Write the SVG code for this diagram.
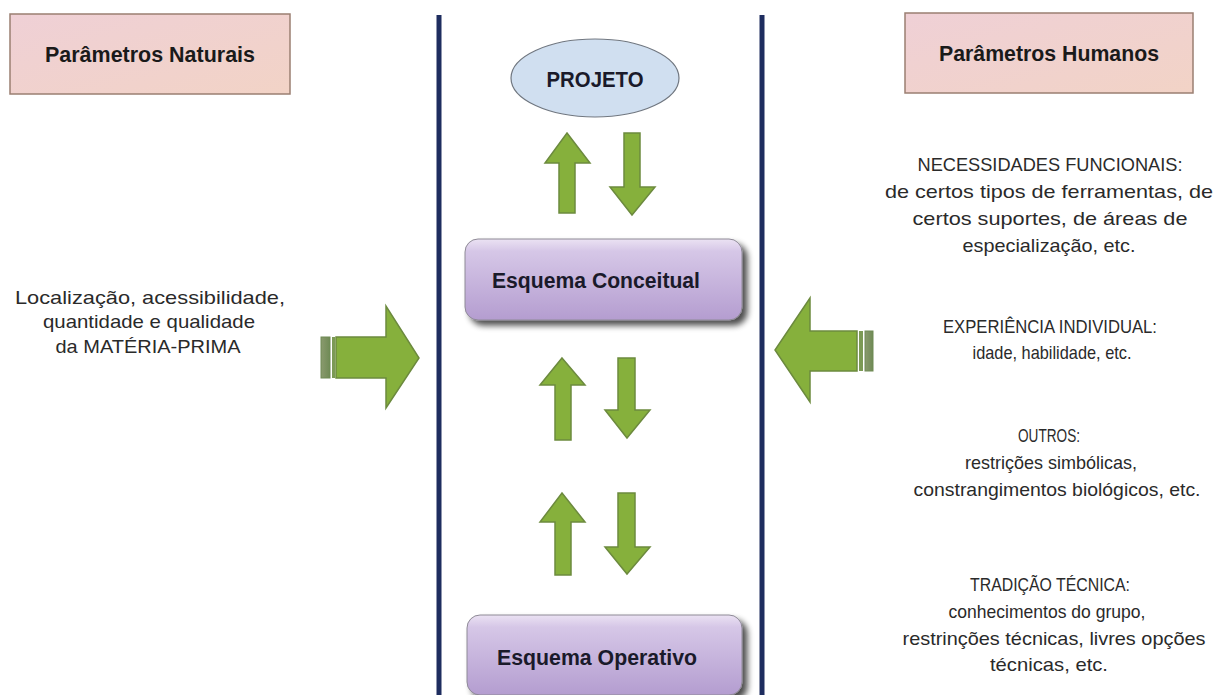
<svg xmlns="http://www.w3.org/2000/svg" width="1220" height="695" viewBox="0 0 1220 695">
<defs>
<linearGradient id="pink" x1="0" y1="0" x2="1" y2="1">
<stop offset="0" stop-color="#efd0d6"/><stop offset="1" stop-color="#f2d3c6"/>
</linearGradient>
<linearGradient id="purple" x1="0" y1="0" x2="0" y2="1">
<stop offset="0" stop-color="#ebe2f3"/><stop offset="0.15" stop-color="#d6c7e7"/><stop offset="1" stop-color="#b49dd0"/>
</linearGradient>
<linearGradient id="stripe" x1="0" y1="0" x2="1" y2="0">
<stop offset="0" stop-color="#8a9a6e"/><stop offset="1" stop-color="#6f8a55"/>
</linearGradient>
<filter id="sh" x="-10%" y="-20%" width="125%" height="160%">
<feGaussianBlur in="SourceAlpha" stdDeviation="3"/>
<feOffset dx="5" dy="5" result="b"/>
<feComponentTransfer><feFuncA type="linear" slope="0.7"/></feComponentTransfer>
<feMerge><feMergeNode/><feMergeNode in="SourceGraphic"/></feMerge>
</filter>
</defs>
<style>
.hdr{font-family:"Liberation Sans",Arial,sans-serif;font-weight:bold;font-size:22px;fill:#1a1a1a;text-anchor:middle}
.box{font-family:"Liberation Sans",Arial,sans-serif;font-weight:bold;font-size:22px;fill:#1a1a2a;text-anchor:middle}
.t{font-family:"Liberation Sans",Arial,sans-serif;font-size:19px;fill:#2a2a2a;text-anchor:middle}
.pinkbox{fill:url(#pink);stroke:#9a7f72;stroke-width:1.5}
.purp{fill:url(#purple);stroke:#8e8a96;stroke-width:1}
.ga{fill:#86b03c;stroke:#6c8a3e;stroke-width:1.5;stroke-linejoin:miter}
.vline{stroke:#1e2d5f;stroke-width:5}
</style>
<rect width="1220" height="695" fill="#ffffff"/>

<g id="node-parametros-naturais">
<rect class="pinkbox" x="10" y="14" width="280" height="80"/>
<text class="hdr" x="150" y="62" textLength="210" lengthAdjust="spacingAndGlyphs">Parâmetros Naturais</text>
</g>
<g id="node-parametros-humanos">
<rect class="pinkbox" x="905" y="13" width="288" height="80"/>
<text class="hdr" x="1049" y="61" textLength="220" lengthAdjust="spacingAndGlyphs">Parâmetros Humanos</text>
</g>

<g id="dividers">
<line class="vline" x1="439" y1="15" x2="439" y2="695"/>
<line class="vline" x1="762" y1="15" x2="762" y2="695"/>
</g>

<g id="node-projeto">
<ellipse cx="595" cy="78" rx="84" ry="39" fill="#d0dff0" stroke="#707780" stroke-width="1.2"/>
<text class="box" x="595" y="87" textLength="97" lengthAdjust="spacingAndGlyphs">PROJETO</text>
</g>

<g id="node-esquema-conceitual">
<rect class="purp" x="465" y="239" width="277" height="81" rx="13" filter="url(#sh)"/>
<text class="box" x="596" y="288" textLength="208" lengthAdjust="spacingAndGlyphs">Esquema Conceitual</text>
</g>

<g id="node-esquema-operativo">
<rect class="purp" x="467" y="615" width="275" height="80" rx="13" filter="url(#sh)"/>
<text class="box" x="597" y="665" textLength="200" lengthAdjust="spacingAndGlyphs">Esquema Operativo</text>
</g>

<g id="node-naturais-texto">
<text class="t" x="150" y="304" textLength="270" lengthAdjust="spacingAndGlyphs">Localização,  acessibilidade,</text>
<text class="t" x="149" y="328" textLength="212" lengthAdjust="spacingAndGlyphs">quantidade e qualidade</text>
<text class="t" x="148" y="353" textLength="185" lengthAdjust="spacingAndGlyphs">da MATÉRIA-PRIMA</text>
</g>

<g id="node-humanos-texto">
<text class="t" x="1050" y="171" textLength="265" lengthAdjust="spacingAndGlyphs">NECESSIDADES FUNCIONAIS:</text>
<text class="t" x="1049" y="198" textLength="328" lengthAdjust="spacingAndGlyphs">de certos tipos de ferramentas, de</text>
<text class="t" x="1050" y="225" textLength="275" lengthAdjust="spacingAndGlyphs">certos suportes, de áreas de</text>
<text class="t" x="1049" y="252" textLength="173" lengthAdjust="spacingAndGlyphs">especialização, etc.</text>
<text class="t" x="1050" y="333" textLength="214" lengthAdjust="spacingAndGlyphs">EXPERIÊNCIA INDIVIDUAL:</text>
<text class="t" x="1052" y="359" textLength="159" lengthAdjust="spacingAndGlyphs">idade, habilidade, etc.</text>
<text class="t" x="1049" y="442" textLength="62" lengthAdjust="spacingAndGlyphs">OUTROS:</text>
<text class="t" x="1051" y="469" textLength="172" lengthAdjust="spacingAndGlyphs">restrições simbólicas,</text>
<text class="t" x="1057" y="496" textLength="287" lengthAdjust="spacingAndGlyphs">constrangimentos biológicos, etc.</text>
<text class="t" x="1050" y="591" textLength="160" lengthAdjust="spacingAndGlyphs">TRADIÇÃO TÉCNICA:</text>
<text class="t" x="1047" y="618" textLength="197" lengthAdjust="spacingAndGlyphs">conhecimentos do grupo,</text>
<text class="t" x="1054" y="645" textLength="303" lengthAdjust="spacingAndGlyphs">restrinções técnicas, livres opções</text>
<text class="t" x="1049" y="671" textLength="118" lengthAdjust="spacingAndGlyphs">técnicas, etc.</text>
</g>

<g id="connectors">
<path class="ga" d="M567,133 L590,163 L575,163 L575,213 L559,213 L559,163 L545,163 Z"/>
<path class="ga" d="M624,133 L640,133 L640,187 L655,187 L632,215 L610,187 L624,187 Z"/>
<path class="ga" d="M562,358 L585,385 L571,385 L571,440 L555,440 L555,385 L540,385 Z"/>
<path class="ga" d="M618,358 L635,358 L635,410 L650,410 L627,438 L605,410 L618,410 Z"/>
<path class="ga" d="M562,493 L585,522 L571,522 L571,575 L555,575 L555,522 L540,522 Z"/>
<path class="ga" d="M618,493 L635,493 L635,547 L650,547 L627,574 L605,547 L618,547 Z"/>
<g id="arrow-left-big">
<rect x="321" y="337" width="9" height="41" fill="url(#stripe)" stroke="#6f8a55" stroke-width="1"/>
<rect x="332" y="337" width="3" height="41" fill="#7c9a55"/>
<path class="ga" d="M336,337 L386,337 L386,306 L419,358 L386,408 L386,378 L336,378 Z"/>
</g>
<g id="arrow-right-big">
<path class="ga" d="M857,331 L810,331 L810,298 L775,350 L810,402 L810,371 L857,371 Z"/>
<rect x="859" y="331" width="4" height="40" fill="#7c9a55"/>
<rect x="865" y="331" width="8" height="40" fill="url(#stripe)" stroke="#6f8a55" stroke-width="1"/>
</g>
</g>
</svg>
